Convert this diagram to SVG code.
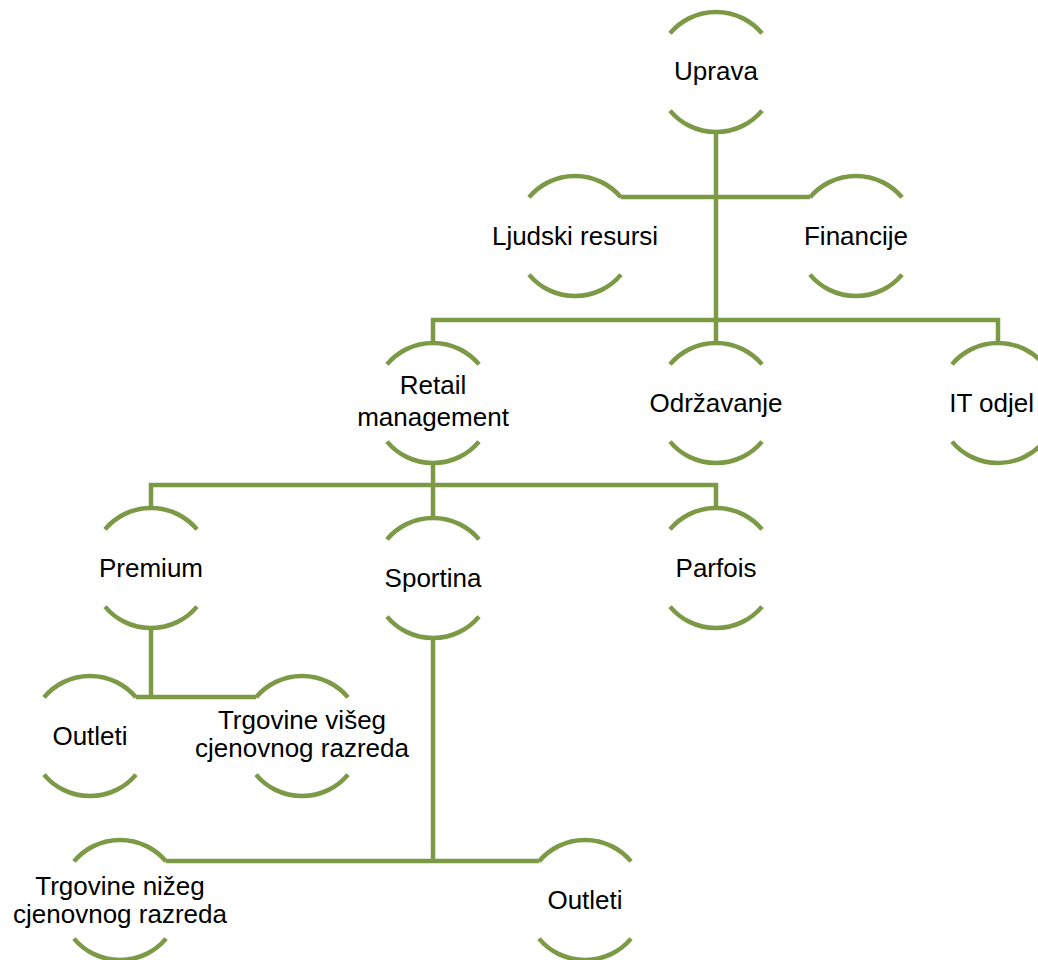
<svg xmlns="http://www.w3.org/2000/svg" xmlns:xlink="http://www.w3.org/1999/xlink" width="1038" height="960" viewBox="0 0 1038 960">
<style>
.ln{fill:none;stroke:#7C9A45;stroke-width:4.5}
.t{font-family:"Liberation Sans",Arial,sans-serif;font-size:26px;fill:#000;text-anchor:middle}
</style>
<defs>
<path id="arcs" class="ln" d="M-46,-38.6 A60,60 0 0 1 46,-38.6 M-46,38.6 A60,60 0 0 0 46,38.6"/>
</defs>
<rect width="1038" height="960" fill="#fff"/>
<g id="connectors" class="ln">
<path d="M716,131 V343"/>
<path d="M621,197 H810"/>
<path d="M433,343 V320 H998 V343"/>
<path d="M433,463 V518"/>
<path d="M151,508 V485 H716 V508"/>
<path d="M151,628 V697"/>
<path d="M136,697 H256"/>
<path d="M433,638 V861"/>
<path d="M166,861 H539"/>
</g>
<g id="n-uprava" transform="translate(716,72)"><use xlink:href="#arcs"/><text class="t" y="8">Uprava</text></g>
<g id="n-ljudski" transform="translate(575,236)"><use xlink:href="#arcs"/><text class="t" y="9">Ljudski resursi</text></g>
<g id="n-financije" transform="translate(856,236)"><use xlink:href="#arcs"/><text class="t" y="9">Financije</text></g>
<g id="n-retail" transform="translate(433,403)"><use xlink:href="#arcs"/><text class="t" y="-9">Retail</text><text class="t" y="23">management</text></g>
<g id="n-odrzavanje" transform="translate(716,403)"><use xlink:href="#arcs"/><text class="t" y="9">Održavanje</text></g>
<g id="n-it" transform="translate(998,403)"><use xlink:href="#arcs"/><text class="t" x="36" y="9" style="text-anchor:end">IT odjel</text></g>
<g id="n-premium" transform="translate(151,568)"><use xlink:href="#arcs"/><text class="t" y="9">Premium</text></g>
<g id="n-sportina" transform="translate(433,578)"><use xlink:href="#arcs"/><text class="t" y="9">Sportina</text></g>
<g id="n-parfois" transform="translate(716,568)"><use xlink:href="#arcs"/><text class="t" y="9">Parfois</text></g>
<g id="n-outleti1" transform="translate(90,736)"><use xlink:href="#arcs"/><text class="t" y="9">Outleti</text></g>
<g id="n-visi" transform="translate(302,736)"><use xlink:href="#arcs"/><text class="t" y="-7">Trgovine višeg</text><text class="t" y="21">cjenovnog razreda</text></g>
<g id="n-nizi" transform="translate(120,900)"><use xlink:href="#arcs"/><text class="t" y="-5">Trgovine nižeg</text><text class="t" y="23">cjenovnog razreda</text></g>
<g id="n-outleti2" transform="translate(585,900)"><use xlink:href="#arcs"/><text class="t" y="9">Outleti</text></g>
</svg>
